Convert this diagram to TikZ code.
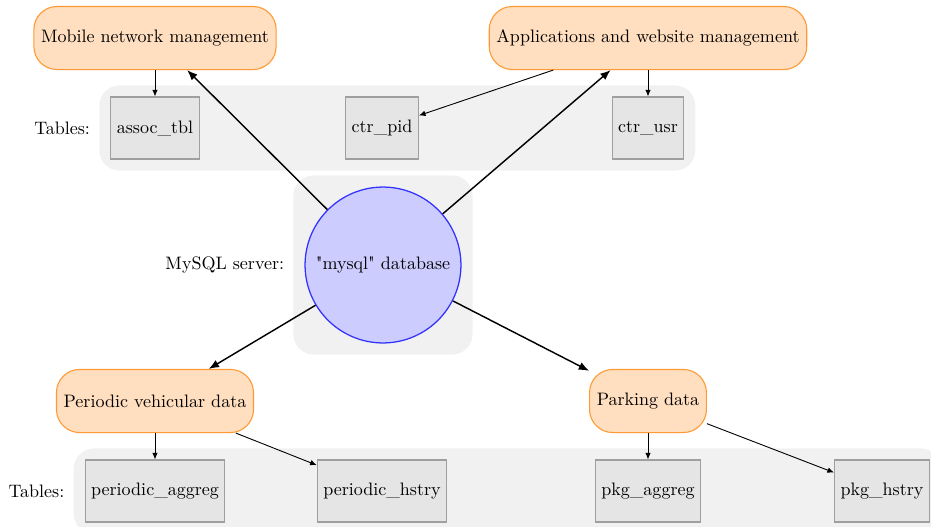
\documentclass[tikz,border=0pt]{standalone}
\usetikzlibrary{positioning,fit,backgrounds,arrows.meta}
\begin{document}
\begin{tikzpicture}
  [x=0.0195cm,y=-0.0195cm,
   task/.style={rectangle,rounded corners=0.45cm,draw=orange!80,fill=orange!25,line width=0.6pt,minimum height=1.23cm,inner xsep=4pt},
   tbl/.style={rectangle,draw=gray!75,fill=gray!20,line width=0.6pt,minimum height=1.21cm},
   db/.style={circle,draw=blue!80,fill=blue!20,line width=0.7pt,minimum size=3.04cm,inner sep=0pt},
   grp/.style={rectangle,rounded corners=0.4cm,fill=gray!11,inner sep=0.215cm}]
  \tikzstyle{link} = [line width=0.5pt,-{Latex[length=1.3mm,width=1.1mm]}]
  \tikzstyle{feed} = [line width=0.8pt,-{Latex[length=2mm,width=1.6mm]}]
  \useasboundingbox (0,0) rectangle (931,527);
  \node[task] (mob) at (155,38) {Mobile network management};
  \node[task] (app) at (648,38) {Applications and website management};
  \node[tbl] (assoc)  at (155,128) {assoc\_tbl};
  \node[tbl] (ctrpid) at (382,128) {ctr\_pid};
  \node[tbl] (ctrusr) at (648,128) {ctr\_usr};
  \node[db] (mysql) at (383,265) {\textquotedbl mysql\textquotedbl{} database};
  \node[task] (per) at (155,401) {Periodic vehicular data};
  \node[task] (pkg) at (648,401) {Parking data};
  \node[tbl] (peragg) at (155,491) {periodic\_aggreg};
  \node[tbl] (perhst) at (382,491) {periodic\_hstry};
  \node[tbl] (pkgagg) at (648,491) {pkg\_aggreg};
  \node[tbl] (pkghst) at (882,491) {pkg\_hstry};
  \begin{scope}[on background layer]
    \node[grp,fit=(assoc)(ctrusr)] (topgrp) {};
    \node[grp,fit=(mysql)] (srvgrp) {};
    \node[grp,fit=(peragg)(pkghst)] (botgrp) {};
  \end{scope}
  \node[left=0.05cm of topgrp] (toplbl) {Tables:};
  \node[left=0.05cm of srvgrp] (srvlbl) {MySQL server:};
  \node[left=0.05cm of botgrp] (botlbl) {Tables:};
  \foreach \src/\dst in {mob/assoc,app/ctrpid,app/ctrusr,per/peragg,per/perhst,pkg/pkgagg,pkg/pkghst}
    \draw[link] (\src) -- (\dst);
  \foreach \dst in {mob,app,per,pkg}
    \draw[feed] (mysql) -- (\dst);
\end{tikzpicture}
\end{document}
